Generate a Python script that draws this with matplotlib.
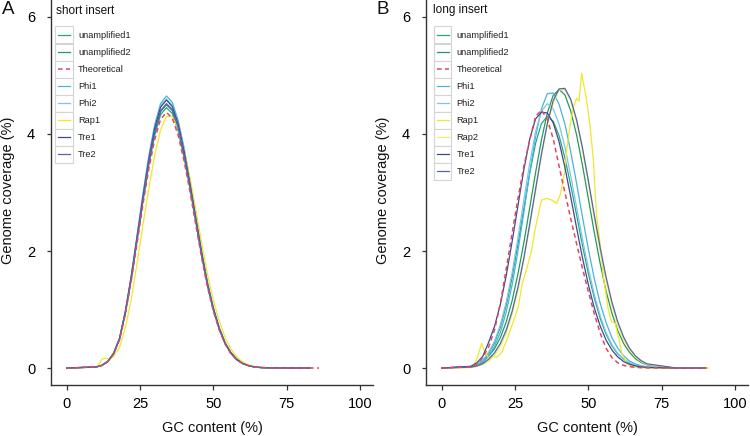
import matplotlib
matplotlib.use("Agg")
import matplotlib.pyplot as plt
from matplotlib.patches import Rectangle
from matplotlib.lines import Line2D

plt.rcParams['font.family'] = ['Liberation Sans', 'DejaVu Sans']

# ---------------- Panel A (short insert) ----------------
gc_a = [0, 10, 12, 14, 16, 18, 20, 22, 24, 26, 28, 30, 32, 34, 36, 38, 40, 42, 44, 46,
        48, 50, 52, 54, 56, 58, 60, 62, 64, 66, 70, 83]
gc_a_theo = [0, 10, 12, 14, 16, 18, 20, 22, 24, 26, 28, 30, 32, 34, 36, 38, 40, 42, 44, 46,
             48, 50, 52, 54, 56, 58, 60, 62, 64, 66, 70, 86]
gc_a_rap1 = [0, 10, 11, 12, 13, 14, 15, 16, 18, 20, 22, 24, 26, 28, 30, 32, 34, 36, 38, 40,
             42, 44, 46, 48, 50, 52, 54, 56, 58, 60, 62, 64, 66, 70, 83]

unamp1_a = [0, .018, .045, .11, .24, .49, .93, 1.51, 2.18, 2.85, 3.47, 3.98, 4.33, 4.45, 4.35, 4.05,
            3.60, 3.07, 2.49, 1.91, 1.40, .99, .66, .41, .25, .14, .076, .04, .018, .009, .002, 0]
unamp2_a = [0, .018, .045, .11, .25, .50, .95, 1.53, 2.21, 2.88, 3.51, 4.03, 4.38, 4.50, 4.40, 4.10,
            3.65, 3.11, 2.52, 1.94, 1.42, 1.00, .67, .42, .25, .14, .077, .04, .018, .009, .002, 0]
theo_a = [0, .017, .044, .11, .24, .48, .92, 1.49, 2.14, 2.80, 3.41, 3.91, 4.25, 4.37, 4.27, 3.98,
          3.54, 3.02, 2.45, 1.88, 1.38, .97, .65, .41, .24, .14, .074, .039, .017, .009, .002, 0]
phi1_a = [0, .019, .047, .12, .26, .51, .98, 1.58, 2.28, 2.98, 3.63, 4.16, 4.52, 4.65, 4.54, 4.23,
          3.77, 3.21, 2.60, 2.00, 1.46, 1.03, .69, .43, .26, .15, .079, .042, .019, .009, .002, 0]
phi2_a = [0, .018, .046, .12, .25, .51, .97, 1.56, 2.25, 2.94, 3.59, 4.12, 4.48, 4.60, 4.49, 4.19,
          3.73, 3.17, 2.58, 1.98, 1.45, 1.02, .68, .43, .26, .15, .078, .041, .018, .009, .002, 0]
rap1_a = [0, .02, .06, .15, .17, .16, .16, .2, .35, .69, 1.17, 1.80, 2.45, 3.07, 3.64, 4.07, 4.30,
          4.30, 4.09, 3.73, 3.25, 2.71, 2.14, 1.60, 1.16, .80, .52, .32, .19, .10, .056, .026, .013,
          .003, 0]
tre1_a = [0, .018, .046, .11, .25, .50, .96, 1.56, 2.24, 2.93, 3.57, 4.10, 4.46, 4.58, 4.47, 4.17,
          3.71, 3.16, 2.56, 1.97, 1.44, 1.02, .68, .43, .26, .15, .078, .041, .018, .009, .002, 0]
tre2_a = [0, .018, .045, .11, .25, .50, .95, 1.54, 2.21, 2.89, 3.53, 4.05, 4.40, 4.52, 4.42, 4.11,
          3.66, 3.12, 2.53, 1.94, 1.42, 1.00, .67, .42, .25, .14, .077, .041, .018, .009, .002, 0]

# ---------------- Panel B (long insert) ----------------
gc_b = [0, 10, 12, 14, 16, 18, 20, 22, 24, 26, 28, 30, 32, 34, 36, 38, 40, 42, 44, 46, 48, 50,
        52, 54, 56, 58, 60, 62, 64, 66, 68, 70, 80, 90]
unamp1_b = [0, .025, .06, .13, .25, .43, .70, 1.07, 1.55, 2.12, 2.73, 3.33, 3.84, 4.18, 4.30, 4.22,
            3.97, 3.59, 3.12, 2.61, 2.09, 1.61, 1.20, .85, .58, .38, .24, .15, .085, .048, .026,
            .013, 0, 0]
unamp2_b = [0, .02, .05, .10, .20, .33, .52, .79, 1.15, 1.61, 2.14, 2.74, 3.34, 3.90, 4.36, 4.66,
            4.76, 4.67, 4.39, 3.98, 3.46, 2.89, 2.32, 1.79, 1.32, .94, .64, .42, .27, .16, .094,
            .053, 0, 0]
theo_b = [0, .02, .07, .18, .36, .65, 1.1, 1.7, 2.3, 2.9, 3.45, 3.9, 4.3, 4.41, 4.25, 3.92, 3.45,
          3.0, 2.55, 2.12, 1.7, 1.3, .93, .6, .34, .18, .09, .045, .025, .012, .006, .003, 0, 0]
phi1_b = [0, .02, .045, .10, .21, .37, .61, .96, 1.42, 2.00, 2.66, 3.34, 3.95, 4.43, 4.69, 4.70,
          4.51, 4.17, 3.69, 3.15, 2.58, 2.03, 1.53, 1.11, .78, .52, .34, .21, .12, .07, .039, .02,
          0, 0]
phi2_b = [0, .027, .065, .14, .27, .46, .74, 1.13, 1.63, 2.23, 2.87, 3.50, 4.04, 4.39, 4.52, 4.43,
          4.17, 3.78, 3.28, 2.74, 2.20, 1.70, 1.26, .90, .61, .40, .25, .15, .089, .05, .027, .014,
          0, 0]
rap2_b = [0, .01, .025, .06, .12, .22, .37, .6, .92, 1.33, 1.84, 2.41, 3.02, 3.62, 4.14, 4.53,
          4.75, 4.76, 4.57, 4.20, 3.72, 3.15, 2.57, 2.0, 1.5, 1.08, .74, .49, .31, .19, .11, .06,
          0, 0]
tre1_b = [0, .03, .09, .20, .44, .71, 1.09, 1.58, 2.16, 2.78, 3.39, 3.91, 4.26, 4.37, 4.36, 4.19,
          3.87, 3.43, 2.92, 2.39, 1.88, 1.42, 1.03, .72, .48, .31, .19, .11, .065, .036, .019, .01,
          0, 0]
tre2_b = [0, .015, .035, .075, .15, .26, .42, .65, .97, 1.38, 1.88, 2.46, 3.06, 3.66, 4.18, 4.57,
          4.77, 4.78, 4.59, 4.24, 3.76, 3.20, 2.62, 2.06, 1.56, 1.13, .79, .53, .34, .21, .125,
          .072, 0, 0]
gc_b_rap1 = [0, 10, 10.8, 11.9, 13.6, 14.8, 15.9, 17.6, 18.7, 20.5, 22.7, 25, 26.1, 27.5, 29,
             30.5, 31.8, 32.9, 34, 35.8, 37.5, 39.2, 40.3, 41, 42, 42.6, 43.7, 44.9, 46, 46.8,
             47.7, 49.4, 50.6, 51.7, 52.3, 52.8, 54, 55.1, 56.8, 57.9, 59.1, 60.2, 61.4, 63.1,
             65, 70, 91]
rap1_b = [0, .01, .05, .14, .42, .27, .18, .21, .18, .27, .55, .88, 1.05, 1.45, 1.7, 1.98, 2.36,
          2.62, 2.87, 2.9, 2.87, 2.81, 2.95, 3.1, 3.38, 3.73, 4.12, 4.47, 4.61, 4.56, 5.04, 4.58,
          4.12, 3.56, 3.0, 2.6, 2.13, 1.56, .99, .79, .77, .54, .25, .08, .02, 0, 0]

colors = {
    'unamplified1': '#27a487',
    'unamplified2': '#23995f',
    'Theoretical': '#e2475f',
    'Phi1': '#4bb3d8',
    'Phi2': '#7cc7e5',
    'Rap1': '#efe82c',
    'Rap2': '#f3ec55',
    'Tre1': '#3a4a94',
    'Tre2': '#5563b3',
}

series_a = [
    ('unamplified1', gc_a, unamp1_a),
    ('unamplified2', gc_a, unamp2_a),
    ('Theoretical', gc_a_theo, theo_a),
    ('Phi1', gc_a, phi1_a),
    ('Phi2', gc_a, phi2_a),
    ('Rap1', gc_a_rap1, rap1_a),
    ('Tre1', gc_a, tre1_a),
    ('Tre2', gc_a, tre2_a),
]
series_b = [
    ('unamplified1', gc_b, unamp1_b),
    ('unamplified2', gc_b, unamp2_b),
    ('Theoretical', gc_b, theo_b),
    ('Phi1', gc_b, phi1_b),
    ('Phi2', gc_b, phi2_b),
    ('Rap1', gc_b_rap1, rap1_b),
    ('Rap2', gc_b, rap2_b),
    ('Tre1', gc_b, tre1_b),
    ('Tre2', gc_b, tre2_b),
]

W, H = 750, 436
fig = plt.figure(figsize=(7.5, 4.36), dpi=100)
fig.patch.set_facecolor('white')

def style_line(name):
    if name == 'Theoretical':
        return dict(color=colors[name], lw=1.1, linestyle=(0, (3, 2.2)))
    return dict(color=colors[name], lw=0.9, linestyle='-')

# (x offset of panel, series, legend title, panel letter, legend x offset)
panels = [(0, series_a, 'short insert', 'A', 0.0), (375, series_b, 'long insert', 'B', 3.5)]
for ox, series, title, letter, lx in panels:
    ax = fig.add_axes([(ox + 51) / W, (H - 385) / H, 322 / W, 385 / H])
    for name, xs, ys in series:
        z = 3 if name == 'Theoretical' else 2
        ax.plot(xs, ys, zorder=z, **style_line(name))
    ax.set_xlim(-5.35, 104.4)
    ax.set_ylim(-0.29, 6.29)
    ax.set_xticks([0, 25, 50, 75, 100])
    ax.set_yticks([0, 2, 4, 6])
    for s in ['top', 'right']:
        ax.spines[s].set_visible(False)
    for s in ['left', 'bottom']:
        ax.spines[s].set_linewidth(1.0)
        ax.spines[s].set_color('#333333')
    ax.tick_params(axis='y', length=3.2, width=0.9, pad=8.2, labelsize=10.5, color='#333333')
    ax.tick_params(axis='x', length=3.6, width=0.9, pad=5.0, labelsize=10.5, color='#333333')
    ax.patch.set_alpha(0)

# overlay in pixel coordinates for labels and legends
ov = fig.add_axes([0, 0, 1, 1])
ov.set_xlim(0, W)
ov.set_ylim(H, 0)
ov.axis('off')

for ox, series, title, letter, lx in panels:
    ov.text(ox + 8, 10, letter, fontsize=13.5, ha='center', va='center', color='#111111')
    ov.text(ox + 8, 190, 'Genome coverage (%)', fontsize=10.5, rotation=90,
            ha='center', va='center', color='#111111')
    ov.text(ox + 212, 428, 'GC content (%)', fontsize=10.5, ha='center', va='center',
            color='#111111')
    ov.text(ox + 56 + lx * 0.5, 10.5, title, fontsize=8.5, ha='left', va='center', color='#111111')
    for i, (name, xs, ys) in enumerate(series):
        yc = 35 + i * 17.05
        ov.add_patch(Rectangle((ox + 55 + lx, yc - 8.5), 17.5, 17, facecolor='white',
                               edgecolor='#d4d4d4', lw=0.8))
        st = style_line(name)
        ov.add_line(Line2D([ox + 58 + lx, ox + 70 + lx], [yc, yc], color=st['color'],
                           lw=st['lw'], linestyle=st['linestyle']))
        ov.text(ox + 78 + lx, yc, name, fontsize=6.7, ha='left', va='center', color='#222222')

fig.savefig('out.png', dpi=100, facecolor='white')
